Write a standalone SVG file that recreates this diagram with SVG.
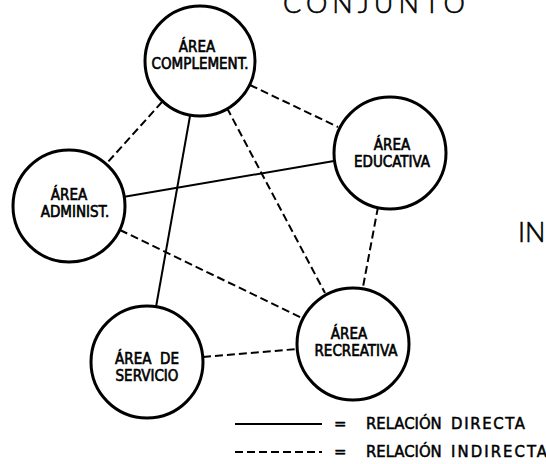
<svg xmlns="http://www.w3.org/2000/svg" width="546" height="464" viewBox="0 0 546 464">
<style>
.node circle{fill:#fff;stroke:#000;stroke-width:3}
.lbl{font-family:"DejaVu Sans Condensed","Liberation Sans Narrow","Liberation Sans",sans-serif;font-size:15px;fill:#000;stroke:#000;stroke-width:0.6;text-anchor:middle}
.leg{font-family:"DejaVu Sans Condensed","Liberation Sans Narrow","Liberation Sans",sans-serif;font-size:16.5px;fill:#000;stroke:#000;stroke-width:0.5}
.big{font-family:Lato,"Liberation Sans",sans-serif;font-weight:300;font-size:27px;fill:#000;stroke:#000;stroke-width:0.6}
.solid{stroke:#000;stroke-width:2;fill:none}
.dash{stroke:#000;stroke-width:2;fill:none;stroke-dasharray:8 4}
</style>
<rect width="546" height="464" fill="#fff"/>
<text class="big" x="283" y="13" letter-spacing="5">CONJUNTO</text>
<text class="big" x="518" y="242">IN</text>
<g id="connectors">
<line class="solid" x1="123" y1="197" x2="334" y2="161"/>
<line class="solid" x1="190" y1="116" x2="156" y2="307"/>
<line class="dash" x1="162" y1="102" x2="107" y2="163"/>
<line class="dash" x1="250" y1="85" x2="338" y2="127"/>
<line class="dash" x1="227" y1="108" x2="325" y2="293"/>
<line class="dash" x1="378" y1="207" x2="363" y2="287"/>
<line class="dash" x1="120" y1="230" x2="302" y2="318"/>
<line class="dash" x1="203" y1="357" x2="297" y2="349"/>
</g>
<g id="complement" class="node">
<circle cx="200" cy="61" r="55"/>
<text class="lbl" x="197" y="52">ÁREA</text>
<text class="lbl" x="200" y="69">COMPLEMENT.</text>
</g>
<g id="educativa" class="node">
<circle cx="390" cy="153" r="56"/>
<text class="lbl" x="392" y="150">ÁREA</text>
<text class="lbl" x="392" y="167">EDUCATIVA</text>
</g>
<g id="administ" class="node">
<circle cx="69" cy="206" r="56"/>
<text class="lbl" x="69" y="200">ÁREA</text>
<text class="lbl" x="75" y="217">ADMINIST.</text>
</g>
<g id="servicio" class="node">
<circle cx="147" cy="362" r="56"/>
<text class="lbl" x="147" y="364" xml:space="preserve">ÁREA  DE</text>
<text class="lbl" x="147" y="381">SERVICIO</text>
</g>
<g id="recreativa" class="node">
<circle cx="353" cy="344" r="56"/>
<text class="lbl" x="349" y="339">ÁREA</text>
<text class="lbl" x="356" y="356">RECREATIVA</text>
</g>
<g id="legend">
<line class="solid" x1="235" y1="424" x2="322" y2="424"/>
<line class="dash" x1="235" y1="452" x2="322" y2="452" stroke-dasharray="8 3.5"/>
<text class="leg" x="334" y="429">=</text>
<text class="leg" x="366" y="429">RELACIÓN</text>
<text class="leg" x="451" y="429" textLength="74" lengthAdjust="spacing">DIRECTA</text>
<text class="leg" x="334" y="457">=</text>
<text class="leg" x="366" y="457">RELACIÓN</text>
<text class="leg" x="451" y="457" textLength="96" lengthAdjust="spacing">INDIRECTA</text>
</g>
</svg>
